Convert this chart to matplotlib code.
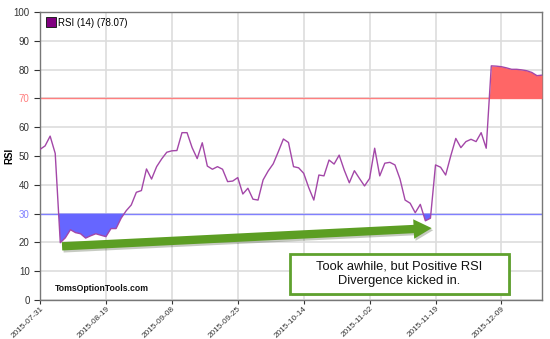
import numpy as np
import matplotlib.pyplot as plt
from matplotlib.patches import FancyArrowPatch, Rectangle
import matplotlib.patheffects as pe

plt.rcParams['font.family'] = ['Liberation Sans', 'DejaVu Sans']

# RSI(14), one value per trading day starting 2015-07-31
rsi = [52.3, 53.5, 56.9, 50.9, 19.9, 21.6, 24.4, 23.4, 23.0, 21.5,
       22.3, 23.0, 22.5, 22.0, 24.8, 24.8, 28.4, 31.0, 33.0, 37.4,
       38.0, 45.5, 42.0, 46.3, 49.0, 51.3, 51.8, 51.9, 58.1, 58.1,
       52.9, 49.1, 54.6, 46.5, 45.4, 46.3, 45.4, 41.1, 41.3, 42.5,
       36.8, 38.8, 35.0, 34.7, 41.7, 44.8, 47.3, 51.5, 55.9, 54.7,
       46.3, 45.9, 44.0, 39.0, 34.7, 43.4, 43.1, 48.6, 47.2, 50.3,
       45.1, 40.7, 44.9, 42.2, 39.6, 42.2, 52.7, 43.1, 47.5, 47.8,
       46.9, 42.0, 34.7, 33.6, 30.3, 33.2, 27.5, 28.4, 46.9, 46.1,
       43.4, 50.0, 56.1, 52.9, 55.0, 55.8, 55.0, 58.1, 52.7, 81.3,
       81.2, 81.0, 80.6, 80.1, 80.1, 79.9, 79.6, 79.0, 77.9, 78.07]
date_labels = ['2015-07-31', '2015-08-19', '2015-09-08', '2015-09-25',
               '2015-10-14', '2015-11-02', '2015-11-19', '2015-12-09']
tick_step = 13  # trading days between date labels
overbought = 70
oversold = 30

x = np.arange(len(rsi))
y = np.array(rsi)

fig = plt.figure(figsize=(5.5, 3.39), dpi=100)
ax = fig.add_axes([40/550, 1-300/339, 502/550, 288/339])

ax.axhline(overbought, color='#ff7f7f', lw=1, zorder=2)
ax.axhline(oversold, color='#8080ff', lw=1, zorder=2)
ax.fill_between(x, y, overbought, where=y > overbought, interpolate=True,
                color='#ff6666', lw=0, zorder=3)
ax.fill_between(x, y, oversold, where=y < oversold, interpolate=True,
                color='#6666ff', lw=0, zorder=3)
ax.plot(x, y, color='#a347a8', lw=1, zorder=4)

ax.set_xlim(0, len(rsi) - 1)
ax.set_ylim(0, 100)
ax.set_yticks(range(0, 101, 10))
ax.set_xticks(np.arange(len(date_labels)) * tick_step)
ax.set_xticklabels(date_labels, rotation=44, ha='right', va='top',
                   rotation_mode='anchor', fontsize=5.9, color='#333333')
ax.tick_params(axis='y', labelsize=7, colors='#333333', length=4, width=0.8)
ax.tick_params(axis='x', length=3, width=0.8, colors='#333333', pad=0.5)
for lab in ax.get_yticklabels():
    if lab.get_text() == str(overbought):
        lab.set_color('#ff7f7f')
    elif lab.get_text() == str(oversold):
        lab.set_color('#8080ff')
ax.grid(True, color='#dddddd', lw=1.2, zorder=0)
ax.set_axisbelow(True)
for s in ax.spines.values():
    s.set_color('#777777')
    s.set_linewidth(1)
ax.set_ylabel('RSI', fontsize=7, fontweight='bold')
ax.yaxis.set_label_coords(-0.052, 0.5)

# legend
leg_marker, = ax.plot([], [], 's', color='#800080', mec='#222222', mew=0.7, ms=7)
ax.legend([leg_marker], ['RSI (14) (%.2f)' % rsi[-1]], loc='upper left',
          frameon=False, fontsize=7, handletextpad=0.3, borderaxespad=0.2,
          handlelength=1.0)

ax.text(0.03, 0.03, 'TomsOptionTools.com', transform=ax.transAxes,
        fontsize=6.2, fontweight='bold', color='#111111', zorder=6)

# green divergence arrow
arrow = FancyArrowPatch((3.8, 18.6), (77.8, 25.0),
                        arrowstyle='simple,head_length=1.3,head_width=1.4,tail_width=0.6',
                        mutation_scale=10, color='#5c9e23', lw=0, zorder=7,
                        path_effects=[pe.SimplePatchShadow(offset=(1, -1.5), alpha=0.25),
                                      pe.Normal()])
ax.add_patch(arrow)

# annotation box
box = Rectangle((0.498, 0.021), 0.436, 0.139, transform=ax.transAxes,
                facecolor='white', edgecolor='#5fa12e', lw=2, zorder=8,
                path_effects=[pe.SimplePatchShadow(offset=(1.5, -1.5), alpha=0.3),
                              pe.Normal()])
ax.add_patch(box)
ax.text(0.716, 0.091, 'Took awhile, but Positive RSI\nDivergence kicked in.',
        transform=ax.transAxes, ha='center', va='center', fontsize=9.3,
        color='#111111', linespacing=1.2, zorder=9)

fig.savefig('out.png', dpi=100)
